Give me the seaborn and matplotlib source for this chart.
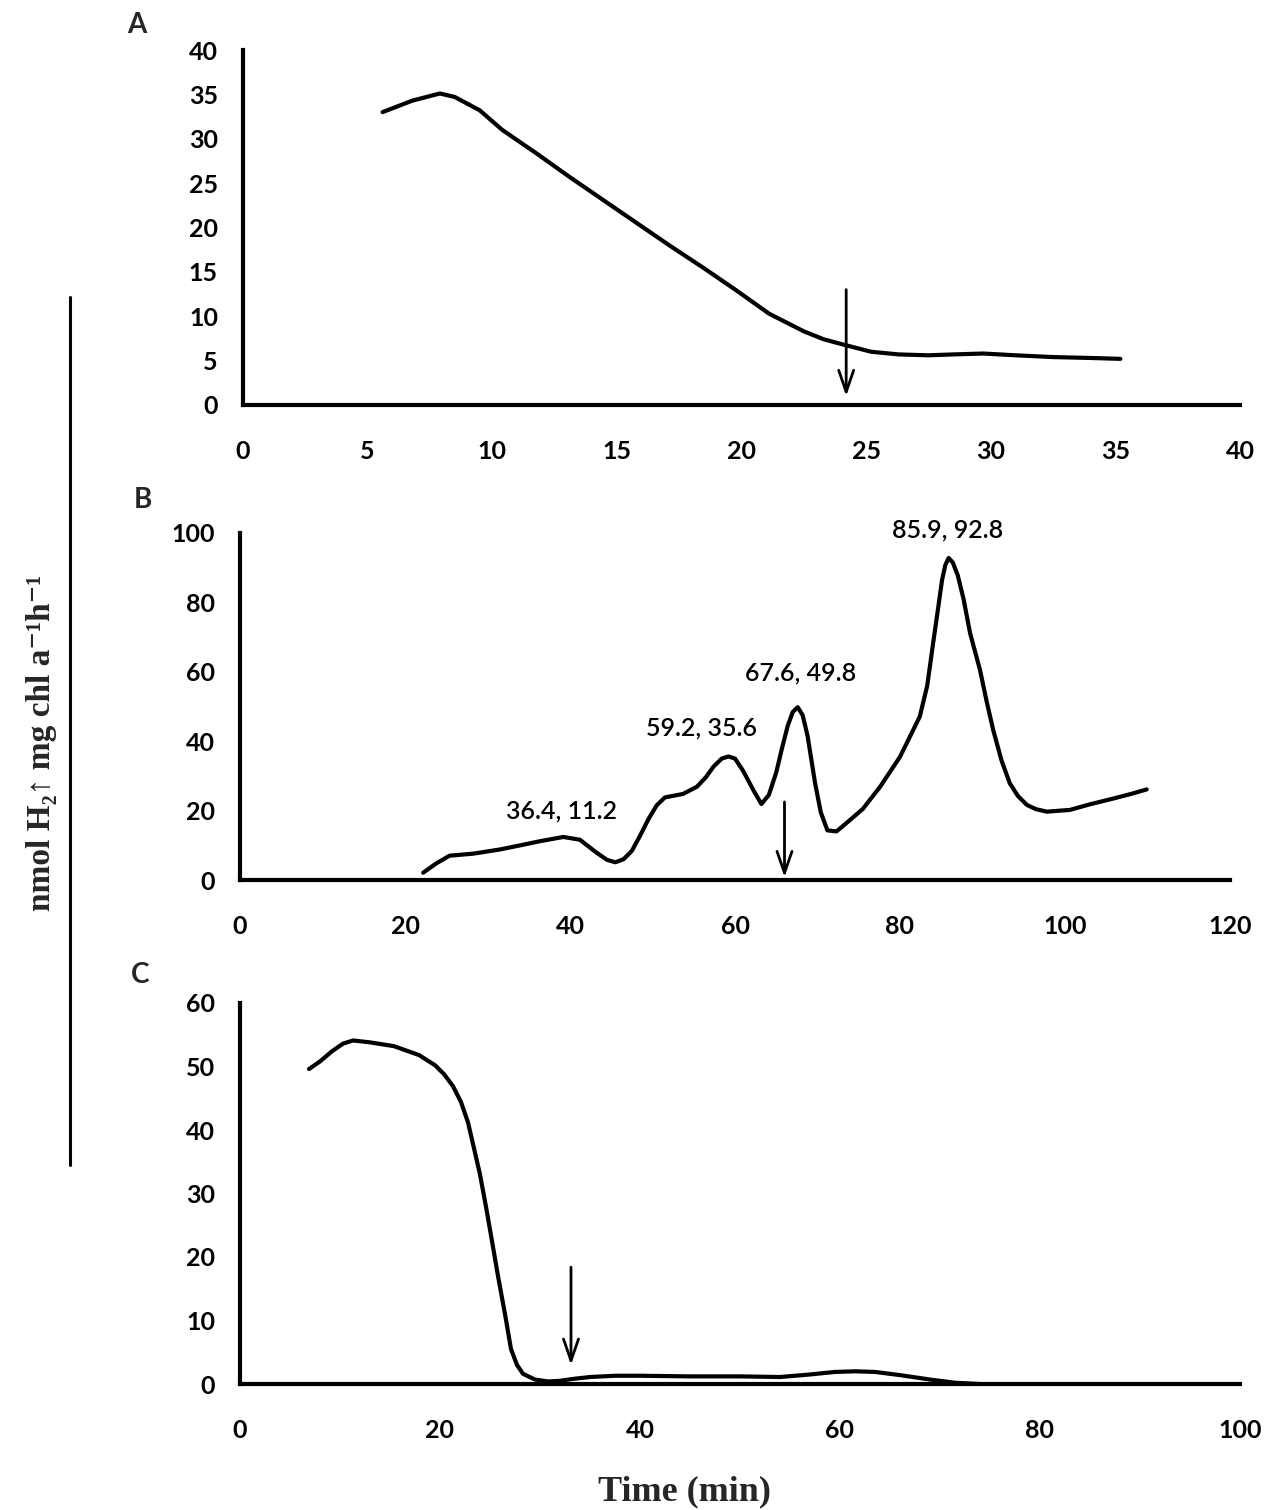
import matplotlib
matplotlib.use("Agg")
import matplotlib.pyplot as plt
from matplotlib.lines import Line2D
import numpy as np
import pandas as pd
import seaborn as sns

# Panel A: H2 evolution (nmol H2 mg chl a^-1 h^-1) over time (min)
a_time = [5.6, 6.8, 7.9, 8.5, 9.5, 10.4, 11.8, 13.1, 14.5, 15.8, 17.1, 18.5, 19.8, 21.1, 22.5,
          23.3, 24.1, 25.2, 26.3, 27.5, 28.5, 29.7, 31.0, 32.5, 34.0, 35.2]
a_rate = [33.0, 34.3, 35.1, 34.7, 33.2, 31.0, 28.3, 25.7, 23.0, 20.5, 18.0, 15.4, 12.9, 10.3, 8.3,
          7.4, 6.8, 6.0, 5.7, 5.6, 5.7, 5.8, 5.6, 5.4, 5.3, 5.2]
a_arrow = (24.2, 13.0, 1.0)  # time, tail value, head value

# Panel B
b_time = [22.2, 23.8, 25.4, 28.3, 31.5, 34.0, 36.4, 39.2, 41.2, 43.2, 44.5, 45.5, 46.5, 47.5,
          48.5, 49.5, 50.5, 51.5, 53.7, 55.4, 56.5, 57.4, 58.4, 59.2, 60.0, 61.0, 62.2, 63.2,
          64.1, 65.0, 65.7, 66.4, 67.0, 67.6, 68.2, 68.8, 69.7, 70.4, 71.2, 72.3, 73.7, 75.5,
          77.6, 80.0, 82.4, 83.3, 84.0, 84.6, 85.1, 85.5, 85.9, 86.4, 87.0, 87.7, 88.5, 89.7,
          90.5, 91.3, 92.3, 93.3, 94.3, 95.4, 96.5, 97.8, 100.6, 103.0, 105.9, 108.0, 109.9]
b_rate = [2.1, 4.8, 7.0, 7.6, 8.8, 10.0, 11.2, 12.4, 11.6, 7.9, 5.8, 5.1, 6.0, 8.4,
          12.8, 17.5, 21.5, 23.8, 24.8, 26.9, 29.7, 32.7, 35.0, 35.6, 35.0, 31.4, 26.0, 21.9,
          24.5, 31.0, 38.0, 44.5, 48.4, 49.8, 47.5, 41.5, 28.0, 19.5, 14.3, 14.0, 16.8, 20.5,
          26.9, 35.5, 47.1, 56.0, 68.0, 78.0, 86.5, 90.8, 92.8, 91.5, 87.8, 81.0, 71.1, 60.5,
          51.5, 43.2, 34.5, 27.9, 24.2, 21.6, 20.4, 19.7, 20.2, 21.8, 23.5, 24.8, 26.1]
b_peaks = [(36.4, 11.2), (59.2, 35.6), (67.6, 49.8), (85.9, 92.8)]
b_label_pos = [(39.0, 19.9), (56.0, 43.7), (67.9, 59.7), (85.8, 101.0)]
b_arrow = (66.0, 22.5, 0.8)

# Panel C
c_time = [6.9, 8.0, 9.2, 10.3, 11.3, 13.0, 15.4, 17.9, 19.5, 20.4, 21.3, 22.1, 22.8, 23.3,
          24.0, 24.6, 25.2, 25.8, 26.5, 27.1, 27.7, 28.3, 29.5, 30.8, 32.0, 33.3, 35.0, 37.5,
          40.0, 45.0, 50.0, 54.0, 57.0, 59.5, 61.5, 63.5, 66.0, 69.0, 71.5, 74.0]
c_rate = [49.6, 50.8, 52.4, 53.6, 54.1, 53.8, 53.2, 51.8, 50.2, 48.8, 46.9, 44.4, 41.2, 37.8,
          33.0, 27.9, 22.5, 17.0, 11.0, 5.5, 3.0, 1.6, 0.7, 0.4, 0.5, 0.8, 1.1, 1.3,
          1.3, 1.2, 1.2, 1.1, 1.5, 1.9, 2.0, 1.9, 1.4, 0.7, 0.2, 0.0]
c_arrow = (33.1, 18.4, 3.0)

sns.set_theme(style="white")
plt.rcParams["font.family"] = ["Lato", "DejaVu Sans"]

W, H = 1270, 1510
fig = plt.figure(figsize=(W / 100, H / 100), dpi=100)
fig.patch.set_facecolor("white")


def frac(x0, y0, x1, y1):
    return [x0 / W, 1 - y1 / H, (x1 - x0) / W, (y1 - y0) / H]


panels = [
    dict(rect=frac(243, 50, 1240, 405), t=a_time, v=a_rate, xlim=40, xstep=5, ylim=40, ystep=5,
         arrow=a_arrow, letter="A", lpos=(137, 25)),
    dict(rect=frac(240, 533, 1230, 880), t=b_time, v=b_rate, xlim=120, xstep=20, ylim=100, ystep=20,
         arrow=b_arrow, letter="B", lpos=(143, 500)),
    dict(rect=frac(240, 1003, 1240, 1384), t=c_time, v=c_rate, xlim=100, xstep=20, ylim=60, ystep=10,
         arrow=c_arrow, letter="C", lpos=(140, 975)),
]

for p in panels:
    ax = fig.add_axes(p["rect"])
    ax.set_facecolor("none")
    df = pd.DataFrame({"time": p["t"], "rate": p["v"]})
    sns.lineplot(data=df, x="time", y="rate", ax=ax, color="black", lw=3.0,
                 solid_joinstyle="round", solid_capstyle="round", sort=False)
    ax.set_xlim(0, p["xlim"])
    ax.set_ylim(0, p["ylim"])
    ax.set_xticks(np.arange(0, p["xlim"] + 0.1, p["xstep"]))
    ax.set_yticks(np.arange(0, p["ylim"] + 0.1, p["ystep"]))
    ax.set_xlabel("")
    ax.set_ylabel("")
    for s in ("top", "right"):
        ax.spines[s].set_visible(False)
    for s in ("left", "bottom"):
        ax.spines[s].set_linewidth(3.0)
        ax.spines[s].set_color("black")
        ax.spines[s].set_capstyle("projecting")
    ax.tick_params(axis="x", length=0, pad=25, labelsize=18, colors="black")
    ax.tick_params(axis="y", length=0, pad=18, labelsize=18, colors="black")
    for lab in ax.get_xticklabels() + ax.get_yticklabels():
        lab.set_fontweight("bold")
    t, top, head = p["arrow"]
    ax.annotate("", xy=(t, head), xytext=(t, top),
                arrowprops=dict(arrowstyle="->,head_length=1.3,head_width=0.45",
                                lw=2.0, color="black", shrinkA=0, shrinkB=0))
    lx, ly = p["lpos"]
    fig.text(lx / W, 1 - ly / H, p["letter"], fontsize=20, fontweight="bold",
             ha="center", va="center")
    if p["letter"] == "B":
        for (px, py), (tx, ty) in zip(b_peaks, b_label_pos):
            ax.text(tx, ty, f"{px:.1f},{py:.1f}".replace(",", ", "), fontsize=18,
                    fontweight="semibold", ha="center", va="center", color="black")

# shared y-axis title and bracket line
fig.text(42 / W, 1 - 743 / H, "nmol H\u2082\u2191 mg chl a\u207b\u00b9h\u207b\u00b9",
         rotation=90, ha="center", va="center", fontsize=24, fontweight="bold",
         family=["Liberation Serif", "DejaVu Serif"])
fig.add_artist(Line2D([70 / W, 70 / W], [1 - 297 / H, 1 - 1165 / H], color="black", lw=2.2))

fig.text(685 / W, 1 - 1492 / H, "Time (min)", ha="center", va="center", fontsize=26,
         fontweight="bold", family=["Liberation Serif", "DejaVu Serif"])

fig.savefig("out.png", dpi=100, facecolor="white")
